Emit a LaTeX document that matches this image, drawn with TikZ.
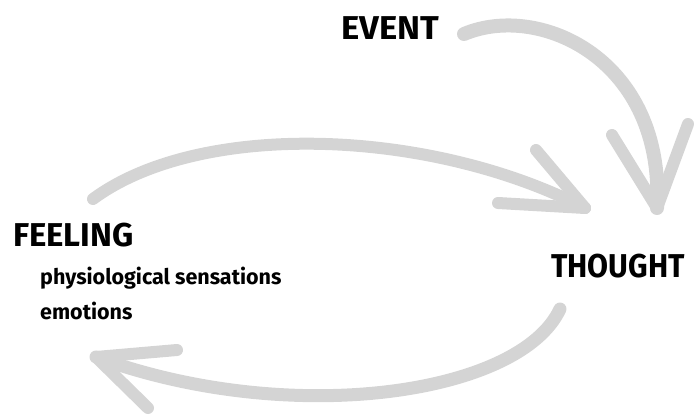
\documentclass[tikz,border=0pt]{standalone}
\usepackage{fontspec}
\setmainfont{Fira Sans}
\begin{document}
\begin{tikzpicture}[x=1pt,y=-1pt,
  lbl/.style={font=\bfseries\fontsize{33}{36}\selectfont, text=black, inner sep=0pt},
  sub/.style={font=\bfseries\fontsize{21.5}{24}\selectfont, text=black, inner sep=0pt},
  brush/.style={draw=arrowgray, line width=13pt, line cap=round, line join=round},
  barb/.style={draw=arrowgray, line width=12pt, line cap=round}]
\definecolor{arrowgray}{RGB}{212,212,212}
\useasboundingbox (0,0) rectangle (694,417);
% labels
\node[lbl, anchor=base west] (event) at (341,40) {\scalebox{1.05}[1]{EVENT}};
\node[lbl, anchor=base west] (thought) at (551,277) {\scalebox{0.92}[1]{THOUGHT}};
\node[lbl, anchor=base west] (feeling) at (13,247) {FEELING};
\node[sub, anchor=base west] (physio) at (40,284) {physiological sensations};
\node[sub, anchor=base west] (emotions) at (40,319) {emotions};
% arrow points
\coordinate (e1) at (464,34);
\coordinate (e2) at (657,208);
\coordinate (f1) at (93,199);
\coordinate (f2) at (585,208);
\coordinate (t1) at (560,309);
\coordinate (t2) at (96,357);
% event -> thought
\draw[brush, line width=14pt] (e1) .. controls (540,2) and (665,60) .. (e2);
\draw[barb] (612,135) -- (e2);
\draw[barb] (688,124) -- (e2);
% feeling -> thought
\draw[brush, line width=12pt] (f1) .. controls (200,120) and (430,128) .. (f2);
\draw[barb] (536,150) -- (f2);
\draw[barb] (498,203) -- (f2);
% thought -> feeling
\draw[brush, line width=13pt] (t1) .. controls (520,395) and (290,428) .. (t2);
\draw[barb] (177,350) -- (t2);
\draw[barb] (148,408) -- (t2);
\end{tikzpicture}
\end{document}
